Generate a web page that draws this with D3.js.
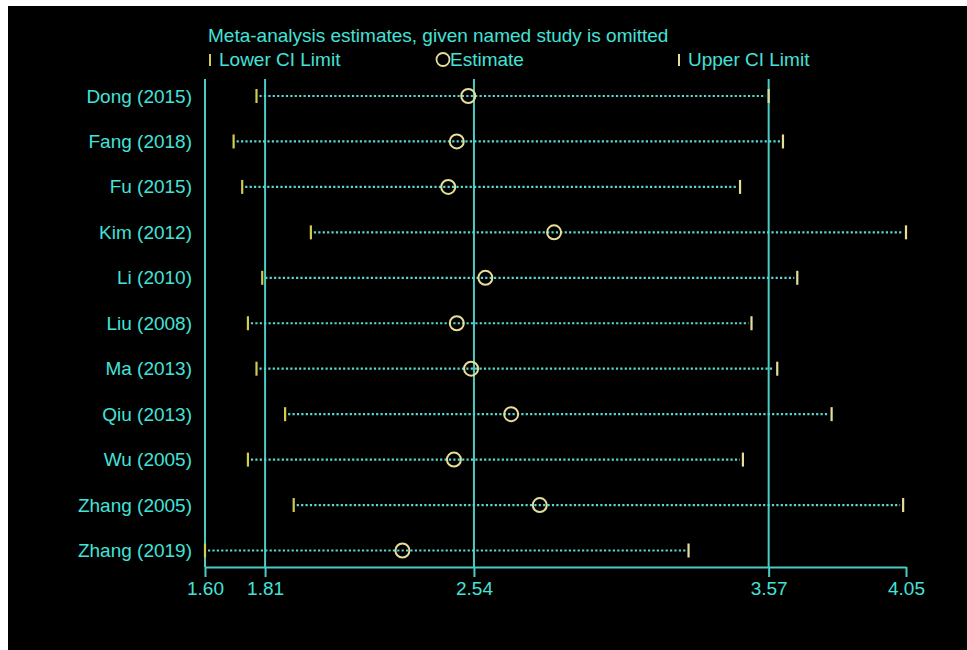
<!DOCTYPE html>
<html>
<head>
<meta charset="utf-8">
<script src="https://cdn.jsdelivr.net/npm/d3@7"></script>
<style>
  body { margin: 0; background: #fff; }
  svg { display: block; font-family: "Liberation Sans", Arial, Helvetica, sans-serif; }
</style>
</head>
<body>
<div id="chart"></div>
<script>
// studies omitted one at a time (top to bottom)
var studies = ["Dong (2015)", "Fang (2018)", "Fu (2015)", "Kim (2012)", "Li (2010)", "Liu (2008)",
  "Ma (2013)", "Qiu (2013)", "Wu (2005)", "Zhang (2005)", "Zhang (2019)"];
var lower = [1.78, 1.70, 1.73, 1.97, 1.80, 1.75, 1.78, 1.88, 1.75, 1.91, 1.60];
var estimate = [2.52, 2.48, 2.45, 2.82, 2.58, 2.48, 2.53, 2.67, 2.47, 2.77, 2.29];
var upper = [3.57, 3.62, 3.47, 4.05, 3.67, 3.51, 3.60, 3.79, 3.48, 4.04, 3.29];

var tickValues = [1.60, 1.81, 2.54, 3.57, 4.05];
var refLines = [1.81, 2.54, 3.57];   // overall estimate and its CI

var title = "Meta-analysis estimates, given named study is omitted";
var legendLabels = ["Lower CI Limit", "Estimate", "Upper CI Limit"];

var W = 967, H = 650;
var cyan = "#44e2d8", lineCyan = "#4ccbc2", pale = "#e6de98", yellow = "#d2cc4c";

var svg = d3.select("#chart").append("svg")
  .attr("width", W).attr("height", H);

svg.append("rect")
  .attr("x", 8).attr("y", 6)
  .attr("width", W - 8).attr("height", H - 6)
  .attr("fill", "#000");

var x = d3.scaleLinear().domain([1.60, 4.05]).range([205, 906]);
var y = d3.scalePoint().domain(studies).range([96, 550.5]);

var plotTop = 79, axisY = 567;

// title + legend
svg.append("text")
  .attr("x", 208).attr("y", 42)
  .attr("fill", cyan).attr("font-size", 19)
  .text(title);

var leg = svg.append("g");
leg.append("line").attr("x1", 210).attr("x2", 210).attr("y1", 54).attr("y2", 66)
  .attr("stroke", yellow).attr("stroke-width", 2);
leg.append("text").attr("x", 219).attr("y", 66).attr("fill", cyan).attr("font-size", 19)
  .text(legendLabels[0]);
leg.append("circle").attr("cx", 443).attr("cy", 59.5).attr("r", 6.5)
  .attr("fill", "none").attr("stroke", pale).attr("stroke-width", 1.8);
leg.append("text").attr("x", 450).attr("y", 66).attr("fill", cyan).attr("font-size", 19)
  .text(legendLabels[1]);
leg.append("line").attr("x1", 679).attr("x2", 679).attr("y1", 54).attr("y2", 66)
  .attr("stroke", pale).attr("stroke-width", 2);
leg.append("text").attr("x", 688).attr("y", 66).attr("fill", cyan).attr("font-size", 19)
  .text(legendLabels[2]);

// left border line and reference lines
svg.append("line")
  .attr("x1", x(1.60)).attr("x2", x(1.60))
  .attr("y1", plotTop).attr("y2", axisY)
  .attr("stroke", lineCyan).attr("stroke-width", 2);

svg.append("g")
  .selectAll("line")
  .data(refLines)
  .enter().append("line")
  .attr("x1", d => x(d)).attr("x2", d => x(d))
  .attr("y1", plotTop).attr("y2", axisY)
  .attr("stroke", lineCyan).attr("stroke-width", 2);

// x axis
var xAxis = svg.append("g")
  .attr("transform", "translate(0," + axisY + ")")
  .call(d3.axisBottom(x).tickValues(tickValues).tickFormat(d3.format(".2f"))
    .tickSize(10).tickSizeOuter(0).tickPadding(5));
xAxis.select(".domain").attr("stroke", lineCyan).attr("stroke-width", 2);
xAxis.selectAll(".tick line").attr("stroke", lineCyan).attr("stroke-width", 2);
xAxis.selectAll(".tick text")
  .attr("fill", cyan).attr("font-size", 19)
  .attr("font-family", "'Liberation Sans', Arial, sans-serif");

// study labels
var yAxis = svg.append("g")
  .attr("transform", "translate(205,0)")
  .call(d3.axisLeft(y).tickSize(0).tickPadding(13));
yAxis.select(".domain").remove();
yAxis.selectAll(".tick text")
  .attr("fill", cyan).attr("font-size", 19)
  .attr("font-family", "'Liberation Sans', Arial, sans-serif");

// rows
var rows = svg.append("g")
  .selectAll("g")
  .data(studies.map((s, i) => ({ s: s, lo: lower[i], est: estimate[i], hi: upper[i] })))
  .enter().append("g")
  .attr("transform", d => "translate(0," + y(d.s) + ")");

rows.append("line")
  .attr("x1", d => x(d.lo) + 3).attr("x2", d => x(d.hi) - 3)
  .attr("y1", 0).attr("y2", 0)
  .attr("stroke", "#58d8cf").attr("stroke-width", 2.2)
  .attr("stroke-dasharray", "2.2,2.2");

rows.append("line")
  .attr("x1", d => x(d.lo)).attr("x2", d => x(d.lo))
  .attr("y1", -7).attr("y2", 7)
  .attr("stroke", yellow).attr("stroke-width", 2.2);

rows.append("line")
  .attr("x1", d => x(d.hi)).attr("x2", d => x(d.hi))
  .attr("y1", -7).attr("y2", 7)
  .attr("stroke", pale).attr("stroke-width", 2.2);

rows.append("circle")
  .attr("cx", d => x(d.est)).attr("cy", 0)
  .attr("r", 7)
  .attr("fill", "none")
  .attr("stroke", pale).attr("stroke-width", 2);
</script>
</body>
</html>
